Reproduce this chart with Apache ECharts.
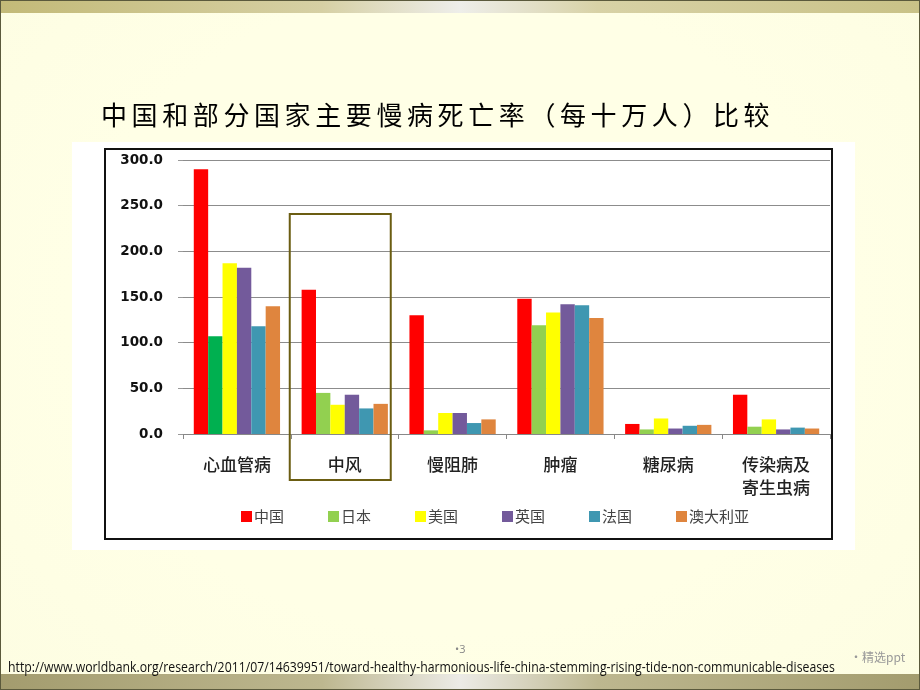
<!DOCTYPE html>
<html>
<head>
<meta charset="utf-8">
<script src="https://cdn.jsdelivr.net/npm/echarts@6/dist/echarts.min.js"></script>
<style>
  html, body { margin: 0; padding: 0; }
  body { width: 920px; height: 690px; position: relative; overflow: hidden;
         background: radial-gradient(ellipse at 50% 45%, #ffffe6 0%, #ffffe6 60%, #fdfde2 100%); }
  .frame { position: absolute; left: 0; top: 0; width: 918px; height: 688px; border: 1px solid #5b5a3c; }
  .topband { position: absolute; left: 0; top: 0; width: 920px; height: 12px;
             background: linear-gradient(to right, #c3ba78 0%, #d6d0a4 35%, #eeeeea 50%, #d8d2a6 65%, #c9c287 100%);
             border-top: 1px solid #6d6838; }
  .botband { position: absolute; left: 0; top: 674px; width: 920px; height: 16px;
             background: linear-gradient(to right, #a39c6e 0%, #bdb78f 35%, #ecebe6 50%, #bdb78f 65%, #a39c6e 100%); }
  #chart { position: absolute; left: 0; top: 0; width: 920px; height: 690px; }
  .title { position: absolute; left: 101px; top: 97px; font-family: "Noto Sans CJK SC", sans-serif;
           font-size: 26px; font-weight: 400; letter-spacing: 4.6px; color: #000; white-space: nowrap; line-height: 34px; }
  .url { position: absolute; left: 8px; top: 657px; font-family: "Liberation Sans Narrow", "Open Sans", sans-serif;
         font-size: 14px; color: #111; white-space: nowrap; transform-origin: 0 0; }
  .pg { position: absolute; left: 455px; top: 641px; font-family: "Open Sans", sans-serif; font-size: 11px; color: #888; }
  .tag { position: absolute; left: 850px; top: 648px; font-family: "Noto Sans CJK SC", sans-serif; font-size: 12px; color: #999; }
</style>
</head>
<body>
<div class="topband"></div>
<div class="botband"></div>
<div class="frame"></div>
<div id="chart"></div>
<div class="title">中国和部分国家主要慢病死亡率（每十万人）比较</div>
<div class="pg">•3</div>
<div class="tag">•精选ppt</div>
<div class="url" id="url">http://www.worldbank.org/research/2011/07/14639951/toward-healthy-harmonious-life-china-stemming-rising-tide-non-communicable-diseases</div>
<script>
// data
var categories = ['心血管病', '中风', '慢阻肺', '肿瘤', '糖尿病', '传染病及\n寄生虫病'];
var countries = ['中国', '日本', '美国', '英国', '法国', '澳大利亚'];
var china     = [290, 158, 130, 148, 11, 43];
var japan     = [107, 45, 4, 119, 5, 8];
var usa       = [187, 32, 23, 133, 17, 16];
var uk        = [182, 43, 23, 142, 6, 5];
var france    = [118, 28, 12, 141, 9, 7];
var australia = [140, 33, 16, 127, 10, 6];
var colors = ['#ff0000', '#92d050', '#ffff00', '#735a9b', '#3f97b1', '#df853e'];

// fit the footer url to its width
var url = document.getElementById('url');
url.style.transform = 'scaleX(' + (827 / url.offsetWidth) + ')';

var chart = echarts.init(document.getElementById('chart'));

var japanData = japan.map(function (v, i) {
  // 心血管病 bar is a darker green in the original
  return i === 0 ? { value: v, itemStyle: { color: '#00b050' } } : v;
});

var seriesData = [china, japanData, usa, uk, france, australia];

var boxes = [
  { type: 'rect', id: 'bg', z: -10, shape: { x: 72, y: 142, width: 783, height: 408 }, style: { fill: '#fff' } },
  { type: 'rect', id: 'border', z: -9, shape: { x: 105, y: 149, width: 727, height: 390 },
    style: { fill: null, stroke: '#111', lineWidth: 2 } }
];

var option = {
  animation: false,
  color: colors,
  graphic: boxes,
  legend: {
    data: countries,
    left: 236,
    top: 504,
    itemWidth: 11,
    itemHeight: 11,
    itemGap: 44,
    icon: 'rect',
    textStyle: { fontFamily: 'Noto Sans CJK SC', fontSize: 15, color: '#444', padding: [0, 0, 0, -3] }
  },
  grid: { left: 183, right: 90, top: 160, bottom: 256 },
  xAxis: {
    type: 'category',
    data: categories,
    axisLine: { lineStyle: { color: '#888', width: 1 } },
    axisTick: { show: true, length: 5, lineStyle: { color: '#888' } },
    axisLabel: {
      margin: 19,
      fontFamily: 'Noto Sans CJK SC',
      fontSize: 17,
      fontWeight: 500,
      color: '#222',
      lineHeight: 23,
      align: 'center'
    }
  },
  yAxis: {
    type: 'value',
    min: 0,
    max: 300,
    interval: 50,
    axisLine: { show: false },
    axisTick: { show: true, length: 5, lineStyle: { color: '#999' } },
    splitLine: { lineStyle: { color: '#8c8c8c', width: 1.2 } },
    axisLabel: {
      margin: 20,
      fontFamily: 'DejaVu Sans',
      fontWeight: 'bold',
      fontSize: 13.5,
      color: '#111',
      formatter: function (v) { return v.toFixed(1); }
    }
  },
  series: countries.map(function (name, i) {
    return {
      name: name,
      type: 'bar',
      data: seriesData[i],
      barGap: '0%',
      barCategoryGap: '20%'
    };
  })
};

chart.setOption(option);

// highlight box around 中风
var boxTop = chart.convertToPixel({ xAxisIndex: 0, yAxisIndex: 0 }, ['中风', 241]);
var boxBase = chart.convertToPixel({ xAxisIndex: 0, yAxisIndex: 0 }, ['中风', 0]);
chart.setOption({
  graphic: boxes.concat([
    { type: 'rect', id: 'hl', z: 10,
      shape: { x: boxTop[0] - 55, y: boxTop[1], width: 101, height: boxBase[1] - boxTop[1] + 46 },
      style: { fill: null, stroke: '#6b5d12', lineWidth: 2 } }
  ])
});
</script>
</body>
</html>
